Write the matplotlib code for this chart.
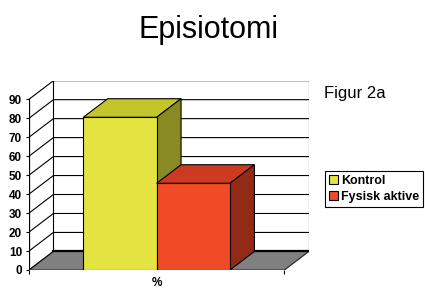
import matplotlib
matplotlib.use('Agg')
import matplotlib.pyplot as plt
from matplotlib.patches import Patch

plt.rcParams['font.family'] = ['Liberation Sans', 'DejaVu Sans']

# data
title = "Episiotomi"
category = "%"
series = ["Kontrol", "Fysisk aktive"]
values = [80.5, 45.7]
yticks = [0, 10, 20, 30, 40, 50, 60, 70, 80, 90]

front_colors = ["#e3e342", "#f04a27"]
top_colors = ["#c4c52a", "#cc3a22"]
side_colors = ["#8a8a22", "#932a15"]

# 3d look: depth offset in data units
xmin, xfloor = -1.74, 1.74
dx, dy = 0.333, 9.8
xmax = xfloor + dx
ymax = yticks[-1] + dy

fig = plt.figure(figsize=(4.25, 2.89), dpi=100)
ax = fig.add_axes([29 / 425, 1 - 270 / 289, (308.7 - 29) / 425, (270 - 80.7) / 289])
ax.set_xlim(xmin, xmax)
ax.set_ylim(0, ymax)
for s in ax.spines.values():
    s.set_visible(False)

# floor
ax.fill([xmin, xfloor, xmax, xmin + dx], [0, 0, dy, dy], color="#808080", zorder=1)
ax.plot([xmin, xfloor, xmax], [0, 0, dy], color="#303030", lw=0.8, zorder=2)
ax.plot([xmin + dx, xmax], [dy, dy], color="black", lw=1.6, zorder=2)

# walls and gridlines
for v in yticks:
    ax.plot([xmin, xmin + dx, xmax], [v, v + dy, v + dy], color="black", lw=0.8, zorder=1)
ax.plot([xmin + dx, xmin + dx], [dy, ymax], color="black", lw=0.8, zorder=1)
ax.plot([xmax, xmax], [dy, ymax], color="black", lw=0.8, zorder=1)
ax.plot([xmin, xmin], [0, yticks[-1]], color="black", lw=0.9, zorder=2)

# bars
xs = [-0.5, 0.5]
for i, (x, v) in enumerate(zip(xs, values)):
    z = 3 + i * 3
    l, r = x - 0.5, x + 0.5
    ax.fill([l, r, r + dx, l + dx], [v, v, v + dy, v + dy],
            facecolor=top_colors[i], edgecolor="black", lw=0.8, zorder=z)
    ax.fill([r, r + dx, r + dx, r], [0, dy, v + dy, v],
            facecolor=side_colors[i], edgecolor="black", lw=0.8, zorder=z)
    ax.bar(x, v, width=1, color=front_colors[i], edgecolor="black", lw=0.8, zorder=z + 1)

# axes ticks
ax.set_yticks(yticks)
ax.set_yticklabels([str(t) for t in yticks], fontsize=8.5, fontweight="bold")
ax.tick_params(axis="y", length=2.5, width=0.8, pad=2.5)
ax.set_xticks([0])
ax.set_xticklabels([category], fontsize=8.5, fontweight="bold")
ax.tick_params(axis="x", length=0, pad=5)
ax.set_xticks([xmin, xfloor], minor=True)
ax.tick_params(axis="x", which="minor", length=3, width=0.8)

fig.text(208.5 / 425, 1 - 37.7 / 289, title, fontsize=22, ha="center", va="baseline")
fig.text(324 / 425, 1 - 97.7 / 289, "Figur 2a", fontsize=12, ha="left", va="baseline")

handles = [Patch(facecolor=front_colors[i], edgecolor="black", lw=0.8) for i in range(2)]
leg = fig.legend(handles, series, loc="upper left", bbox_to_anchor=(325 / 425, 1 - 171 / 289),
                 frameon=True, fancybox=False, edgecolor="black", framealpha=1,
                 prop={"size": 9, "weight": "bold"}, handlelength=0.7, handleheight=0.7,
                 handletextpad=0.3, borderpad=0.3, labelspacing=0.35, borderaxespad=0)
leg.get_frame().set_linewidth(0.8)

fig.savefig("out.png", dpi=100)
